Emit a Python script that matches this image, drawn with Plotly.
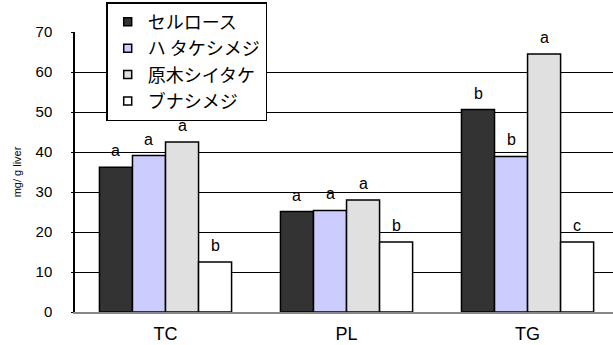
import plotly.graph_objects as go

categories = ["TC", "PL", "TG"]
series_names = ["セルロース", "ハ タケシメジ", "原木シイタケ", "ブナシメジ"]
series_colors = ["#333333", "#ccccff", "#e0e0e0", "#ffffff"]
values = [
    [36.2, 25.1, 50.6],
    [39.1, 25.4, 38.9],
    [42.5, 28.0, 64.5],
    [12.5, 17.5, 17.5],
]
letters = [
    ["a", "a", "b"],
    ["a", "a", "b"],
    ["a", "a", "a"],
    ["b", "b", "c"],
]
y_ticks = [0, 10, 20, 30, 40, 50, 60, 70]

bargap = 0.27
n_series = len(series_names)
bar_w = (1 - bargap) / n_series

fig = go.Figure()
for name, color, vals in zip(series_names, series_colors, values):
    fig.add_trace(go.Bar(
        x=categories, y=vals, name=name,
        marker=dict(color=color, line=dict(color="black", width=1.5)),
        showlegend=False,
    ))
# legend entries with small square symbols
for name, color in zip(series_names, series_colors):
    fig.add_trace(go.Scatter(
        x=[None], y=[None], mode="markers", name=name,
        marker=dict(symbol="square", size=8, color=color,
                    line=dict(color="black", width=1.5)),
    ))

# significance letters above bars
for j, (vals, labs) in enumerate(zip(values, letters)):
    for i, (v, lab) in enumerate(zip(vals, labs)):
        fig.add_annotation(
            x=i + (j - (n_series - 1) / 2) * bar_w, y=v, text=lab,
            showarrow=False, yanchor="bottom", yshift=6,
            font=dict(family="Liberation Sans, Arial", size=16, color="black"),
        )

fig.update_layout(
    width=613, height=345,
    margin=dict(l=75, r=0, t=32, b=33),
    barmode="group", bargap=bargap, bargroupgap=0,
    plot_bgcolor="white", paper_bgcolor="white",
    font=dict(family="Liberation Sans, Arial", color="black"),
    showlegend=True,
    legend=dict(
        x=0.058, y=1.107, xanchor="left", yanchor="top",
        bgcolor="white", bordercolor="black", borderwidth=1.5,
        font=dict(family="Noto Sans CJK JP", size=18, color="black"),
        tracegroupgap=0, itemwidth=30,
    ),
    xaxis=dict(
        range=[-0.5, 2.472], tickfont=dict(size=18, color="black"),
        showline=True, linecolor="#888888", linewidth=2,
        ticks="", showgrid=False, ticklabelstandoff=4,
    ),
    yaxis=dict(
        range=[0, 70], tickvals=y_ticks, tickfont=dict(size=15, color="black"),
        showgrid=True, gridcolor="black", gridwidth=1,
        showline=True, linecolor="black", linewidth=1.5,
        ticks="outside", ticklen=2, tickcolor="black",
        ticklabelstandoff=16,
        zeroline=False,
        title=dict(text="mg/ g liver", font=dict(size=11, color="#000000"), standoff=12),
    ),
)
fig.write_html("out.html")
